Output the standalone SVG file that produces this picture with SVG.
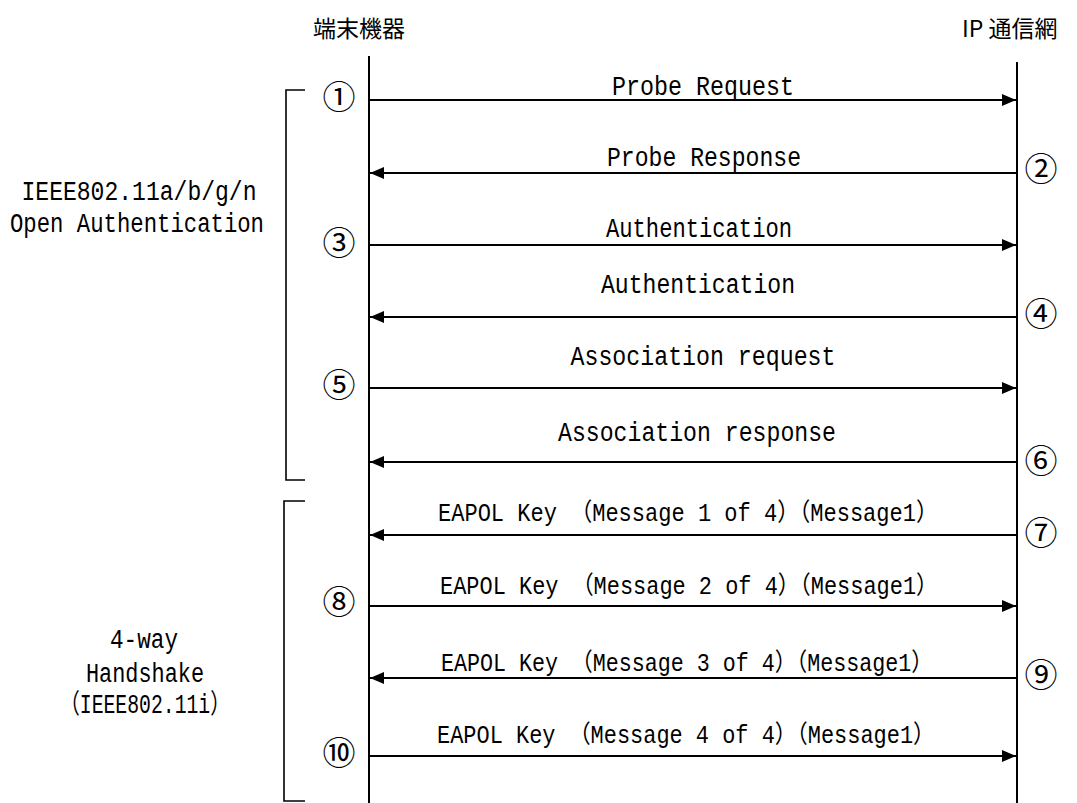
<svg xmlns="http://www.w3.org/2000/svg" width="1077" height="803" viewBox="0 0 1077 803">
<style>
.lbl{font-family:"Liberation Mono","Noto Sans CJK JP",monospace;font-size:27px;fill:#000;text-anchor:middle}
.eap{font-size:25px}
.hdr{font-family:"Noto Sans CJK JP",sans-serif;font-size:23px;fill:#000}
.num{font-family:"Noto Sans CJK JP",sans-serif;font-size:33px;fill:#000;text-anchor:middle}
.life{stroke:#000;stroke-width:2;fill:none}
.msg{stroke:#000;stroke-width:2;fill:none;marker-end:url(#ah)}
.br{stroke:#000;stroke-width:1.6;fill:none}
</style>
<defs>
<marker id="ah" markerUnits="userSpaceOnUse" markerWidth="14" markerHeight="12" refX="14" refY="6" orient="auto">
<path d="M0,0 L14,6 L0,12 z" fill="#000"/>
</marker>
</defs>
<rect width="1077" height="803" fill="#fff"/>
<g id="terminal">
<text class="hdr" x="313" y="37">端末機器</text>
<line class="life" x1="369" y1="56" x2="369" y2="803"/>
</g>
<g id="ipnet">
<text class="hdr" x="962" y="37">IP 通信網</text>
<line class="life" x1="1017" y1="62" x2="1017" y2="803"/>
</g>
<g id="group-open">
<path class="br" d="M305,90 H286 V480 H305"/>
<text class="lbl" x="139" y="200" textLength="235" lengthAdjust="spacingAndGlyphs">IEEE802.11a/b/g/n</text>
<text class="lbl" x="137" y="232" textLength="254" lengthAdjust="spacingAndGlyphs">Open Authentication</text>
</g>
<g id="group-4way">
<path class="br" d="M305,501 H284 V801 H305"/>
<text class="lbl" x="144" y="648" textLength="68" lengthAdjust="spacingAndGlyphs">4-way</text>
<text class="lbl" x="145" y="682" textLength="118" lengthAdjust="spacingAndGlyphs">Handshake</text>
<text class="lbl" x="145" y="713" textLength="170" lengthAdjust="spacingAndGlyphs">（IEEE802.11i）</text>
</g>
<g id="connectors">
<line class="msg" x1="370" y1="100" x2="1016" y2="100"/>
<line class="msg" x1="1016" y1="173" x2="370" y2="173"/>
<line class="msg" x1="370" y1="245" x2="1016" y2="245"/>
<line class="msg" x1="1016" y1="317" x2="370" y2="317"/>
<line class="msg" x1="370" y1="388" x2="1016" y2="388"/>
<line class="msg" x1="1016" y1="462" x2="370" y2="462"/>
<line class="msg" x1="1016" y1="535" x2="370" y2="535"/>
<line class="msg" x1="370" y1="606" x2="1016" y2="606"/>
<line class="msg" x1="1016" y1="678" x2="370" y2="678"/>
<line class="msg" x1="370" y1="756" x2="1016" y2="756"/>
</g>
<g id="labels">
<text class="lbl" x="703" y="95" textLength="182" lengthAdjust="spacingAndGlyphs">Probe Request</text>
<text class="lbl" x="704" y="166" textLength="194" lengthAdjust="spacingAndGlyphs">Probe Response</text>
<text class="lbl" x="699" y="237" textLength="186" lengthAdjust="spacingAndGlyphs">Authentication</text>
<text class="lbl" x="698" y="293" textLength="194" lengthAdjust="spacingAndGlyphs">Authentication</text>
<text class="lbl" x="703" y="365" textLength="265" lengthAdjust="spacingAndGlyphs">Association request</text>
<text class="lbl" x="697" y="441" textLength="278" lengthAdjust="spacingAndGlyphs">Association response</text>
<text class="lbl eap" x="688" y="521" textLength="500" lengthAdjust="spacingAndGlyphs">EAPOL Key （Message 1 of 4）（Message1）</text>
<text class="lbl eap" x="689" y="594" textLength="498" lengthAdjust="spacingAndGlyphs">EAPOL Key （Message 2 of 4）（Message1）</text>
<text class="lbl eap" x="687" y="671" textLength="492" lengthAdjust="spacingAndGlyphs">EAPOL Key （Message 3 of 4）（Message1）</text>
<text class="lbl eap" x="686" y="743" textLength="498" lengthAdjust="spacingAndGlyphs">EAPOL Key （Message 4 of 4）（Message1）</text>
</g>
<g id="steps">
<text class="num" x="339" y="109">①</text>
<text class="num" x="1041" y="181">②</text>
<text class="num" x="339" y="255">③</text>
<text class="num" x="1041" y="326">④</text>
<text class="num" x="339" y="397">⑤</text>
<text class="num" x="1041" y="473">⑥</text>
<text class="num" x="1041" y="545">⑦</text>
<text class="num" x="339" y="614">⑧</text>
<text class="num" x="1041" y="687">⑨</text>
<text class="num" x="339" y="765">⑩</text>
</g>
</svg>
